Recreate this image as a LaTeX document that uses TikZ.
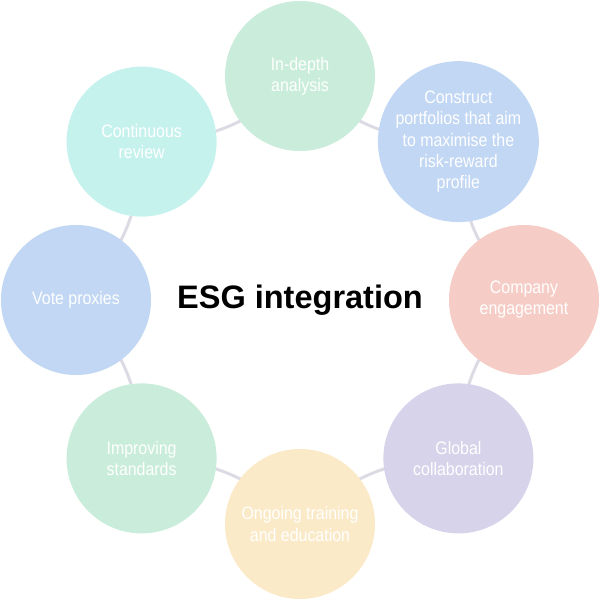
\documentclass[tikz,border=0pt]{standalone}
\usepackage{fontspec}
\setmainfont{Liberation Sans}
\newfontfamily\bullefont[FakeStretch=0.88]{Liberation Sans}
\usetikzlibrary{arrows}
\usetikzlibrary{backgrounds}
\definecolor{vertc}{HTML}{C9EDDA}
\definecolor{bleuc}{HTML}{C2D7F4}
\definecolor{rosec}{HTML}{F6CDC6}
\definecolor{mauvec}{HTML}{D7D3EA}
\definecolor{jaunec}{HTML}{FBEAC8}
\definecolor{cyanc}{HTML}{C6F2EE}
\definecolor{anneau}{HTML}{DCDBE4}
\begin{document}
\begin{tikzpicture}
	\useasboundingbox (-6,-6) rectangle (6,6);
	\tikzstyle{rond}=[circle,minimum size=3cm,inner sep=0pt,align=center,text=white,
		font=\bullefont\fontsize{10.3}{12}\selectfont]
	\tikzstyle{vert}=[rond,fill=vertc]
	\tikzstyle{bleu}=[rond,fill=bleuc]
	\tikzstyle{rose}=[rond,fill=rosec]
	\tikzstyle{mauve}=[rond,fill=mauvec]
	\tikzstyle{jaune}=[rond,fill=jaunec]
	\tikzstyle{cyan}=[rond,fill=cyanc]
	\tikzstyle{lien}=[draw=anneau,line width=1.7pt]
	\node[vert] (A) at (90:4.48){In-depth\\analysis};
	\node[bleu] (B) at (45:4.48){Construct\\portfolios that aim\\to maximise the\\risk-reward\\profile};
	\node[rose] (C) at (0:4.48){Company\\engagement};
	\node[mauve] (D) at (-45:4.48){Global\\collaboration};
	\node[jaune] (E) at (-90:4.48){Ongoing training\\and education};
	\node[vert] (F) at (-135:4.48){Improving\\standards};
	\node[bleu] (G) at (180:4.48){Vote proxies};
	\node[cyan] (H) at (135:4.48){Continuous\\review};
	\node[font=\bfseries\fontsize{18.5}{22}\selectfont] (T) at (0,0){ESG integration};
	\begin{pgfonlayer}{background}
	\foreach \a/\b in {A/B,B/C,C/D,D/E,E/F,F/G,G/H,H/A}
		\draw[lien] (\a.center) to[bend right=22.5] (\b.center);
	\end{pgfonlayer}
\end{tikzpicture}
\end{document}
